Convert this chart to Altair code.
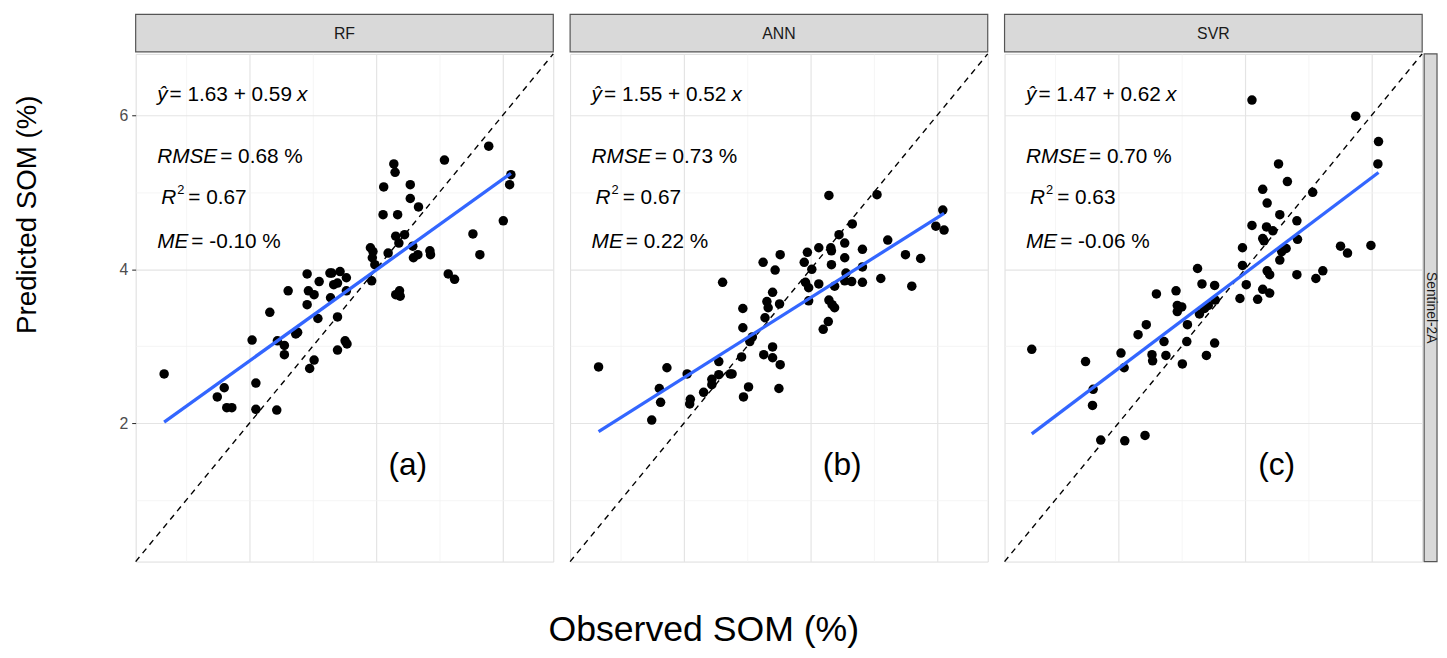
import altair as alt
import pandas as pd

FONT = "Liberation Sans"

models = ["RF", "ANN", "SVR"]
tags = ["(a)", "(b)", "(c)"]
sensor = "Sentinel-2A"
intercepts = [1.63, 1.55, 1.47]
slopes = [0.59, 0.52, 0.62]
rmse = [0.68, 0.73, 0.70]
r2 = [0.67, 0.67, 0.63]
me = [-0.10, 0.22, -0.06]

rf_obs = [0.65, 1.49, 1.60, 1.64, 1.72, 2.04, 2.10, 2.10, 2.43, 2.32, 2.44, 2.55, 2.55, 2.61, 2.73,
          2.76, 2.91, 2.93, 3.02, 2.91, 3.08, 2.95, 3.02, 3.10, 3.27, 3.30, 3.33, 3.28, 3.39, 3.43,
          3.53, 3.53, 3.39, 3.39, 3.51, 3.54, 3.91, 3.95, 3.94, 3.98, 3.93, 4.12, 4.11, 4.28, 4.30,
          4.34, 4.31, 4.36, 4.45, 4.19, 4.31, 4.37, 4.38, 4.54, 4.54, 4.67, 4.58, 4.59, 4.66, 4.85,
          4.86, 5.08, 5.14, 5.24, 5.53, 5.64, 5.78, 6.01, 6.13, 6.11]
rf_pred = [2.64, 2.34, 2.46, 2.20, 2.20, 3.08, 2.52, 2.18, 2.17, 3.44, 3.07, 3.01, 2.89, 3.72, 3.16,
           3.18, 3.94, 3.72, 3.67, 3.54, 3.36, 2.71, 2.82, 3.84, 3.95, 3.95, 3.80, 3.63, 3.82, 3.97,
           3.89, 3.72, 3.38, 2.95, 3.07, 3.03, 4.28, 4.23, 4.15, 4.06, 3.85, 5.07, 4.71, 5.37, 5.26,
           4.71, 4.43, 4.34, 4.45, 4.21, 3.67, 3.72, 3.65, 5.10, 4.92, 4.81, 4.30, 4.15, 4.19, 4.24,
           4.19, 5.42, 3.94, 3.87, 4.46, 4.19, 5.60, 4.63, 5.23, 5.10]

ann_obs = [0.65, 1.49, 1.61, 1.63, 1.73, 2.05, 2.10, 2.09, 2.31, 2.44, 2.44, 2.55, 2.55, 2.73, 2.76,
           2.61, 2.93, 2.93, 2.91, 2.94, 3.02, 3.04, 3.08, 3.25, 3.28, 3.31, 3.33, 3.26, 3.40, 3.40,
           3.52, 3.50, 3.40, 3.44, 3.51, 3.52, 3.90, 3.92, 3.97, 3.97, 3.95, 4.02, 4.13, 4.13, 4.29,
           4.32, 4.33, 4.33, 4.29, 4.34, 4.38, 4.38, 4.28, 4.20, 4.45, 4.54, 4.54, 4.56, 4.54, 4.65,
           4.66, 4.82, 4.82, 4.82, 5.05, 5.11, 5.22, 5.50, 5.60, 5.74, 6.09, 5.98, 6.11]
ann_pred = [2.73, 2.04, 2.45, 2.27, 2.72, 2.64, 2.31, 2.25, 2.40, 2.57, 2.50, 2.80, 2.63, 2.64, 2.64,
            3.83, 3.49, 3.24, 2.86, 2.34, 2.47, 3.06, 3.12, 4.09, 3.37, 3.58, 3.50, 2.89, 2.99, 2.85,
            2.76, 2.45, 3.70, 3.99, 3.55, 4.19, 4.09, 3.83, 3.76, 3.59, 4.22, 4.00, 4.28, 3.81, 4.96,
            4.28, 4.24, 4.06, 3.60, 3.54, 3.50, 3.78, 3.32, 3.22, 4.45, 4.34, 4.15, 3.95, 3.85, 3.84,
            4.59, 4.26, 4.03, 3.83, 4.97, 3.88, 4.38, 4.19, 3.78, 4.14, 4.77, 4.56, 4.51]

svr_obs = [0.63, 1.48, 1.60, 1.59, 1.72, 2.04, 2.09, 2.10, 2.42, 2.31, 2.44, 2.53, 2.54, 2.60, 2.72,
           2.75, 2.91, 2.93, 2.93, 3.00, 3.01, 3.08, 3.09, 3.25, 3.32, 3.28, 3.36, 3.42, 3.52, 3.53,
           3.39, 3.52, 3.92, 3.96, 3.96, 4.02, 4.11, 4.11, 4.20, 4.28, 4.28, 4.30, 4.28, 4.34, 4.35,
           4.35, 4.39, 4.39, 4.44, 4.53, 4.55, 4.55, 4.58, 4.65, 4.67, 4.82, 4.83, 4.82, 5.07, 5.12,
           5.23, 5.51, 5.62, 5.75, 5.99, 6.11, 6.10]
svr_pred = [2.96, 2.80, 2.44, 2.23, 1.78, 2.91, 2.72, 1.77, 1.84, 3.15, 3.28, 2.89, 2.81, 3.68, 3.06,
            2.88, 3.72, 3.53, 3.45, 3.51, 2.77, 3.06, 3.28, 4.01, 3.81, 3.42, 3.49, 3.53, 3.79, 3.60,
            2.88, 3.04, 3.62, 4.28, 4.05, 3.80, 6.20, 4.57, 3.61, 5.04, 4.40, 4.37, 3.74, 4.55, 4.86,
            3.98, 3.93, 3.69, 4.50, 5.37, 4.71, 4.12, 4.23, 4.27, 5.14, 4.63, 4.39, 3.93, 5.00, 3.88,
            3.98, 4.30, 4.21, 5.99, 4.31, 5.66, 5.37]

obs_lists = [rf_obs, ann_obs, svr_obs]
pred_lists = [rf_pred, ann_pred, svr_pred]

axis_limits = [0.2, 6.8]
grid_values = [1, 2, 3, 4, 5, 6]

# annotation anchor positions (data units)
ann_x = 0.54
row_y = [6.26, 5.46, 4.92, 4.36]
tag_x, tag_y = 4.5, 1.45

# layout
PW, PH = 422, 513
FS = 21

W = {' ': 278, '=': 584, '.': 278, '+': 584, '-': 333, '%': 889, 'R': 722, 'M': 833,
     'S': 667, 'E': 667, 'x': 500, 'ŷ': 500}


def tw(s, size=FS):
    return sum(W.get(c, 556) for c in s) * size / 1000.0


EVEN = "datum.value % 2 === 0"
GRIDC = {"condition": {"test": EVEN, "value": "#e4e4e4"}, "value": "#f2f2f2"}
GRIDW = {"condition": {"test": EVEN, "value": 1.2}, "value": 0.8}
TICKO = {"condition": {"test": EVEN, "value": 1}, "value": 0}


def panel(i):
    name = models[i]
    xs = alt.Scale(domain=axis_limits, nice=False, zero=False)
    ys = alt.Scale(domain=axis_limits, nice=False, zero=False)
    xaxis = alt.Axis(values=grid_values, labels=False, ticks=False, domain=False, title=None,
                     gridColor=GRIDC, gridWidth=GRIDW)
    if i == 0:
        yaxis = alt.Axis(values=grid_values, labelExpr="datum.value % 2 === 0 ? datum.label : ''",
                         tickOpacity=TICKO, tickSize=4, tickColor="#333333", tickWidth=1.1,
                         labelColor="#4d4d4d", labelFontSize=16, labelFont=FONT, labelPadding=4,
                         domain=False, gridColor=GRIDC, gridWidth=GRIDW,
                         title="Predicted SOM (%)", titleFontSize=28, titleFont=FONT,
                         titleFontWeight="normal", titleColor="black", titlePadding=78.5,
                         titleY=162)
    else:
        yaxis = alt.Axis(values=grid_values, labels=False, ticks=False, domain=False, title=None,
                         gridColor=GRIDC, gridWidth=GRIDW)

    def X(f):
        return alt.X(f, type="quantitative", scale=xs, axis=xaxis)

    def Y(f):
        return alt.Y(f, type="quantitative", scale=ys, axis=yaxis)

    pts = pd.DataFrame({"obs": obs_lists[i], "pred": pred_lists[i]})
    points = alt.Chart(pts).mark_circle(size=92, color="black", opacity=1).encode(
        x=X("obs"), y=Y("pred"))

    one = alt.Chart(pd.DataFrame({"v": axis_limits})).mark_line(
        color="black", strokeDash=[6, 5], strokeWidth=1.4).encode(x=X("v"), y=Y("v"))

    reg_df = pd.DataFrame({"x": [min(obs_lists[i]), max(obs_lists[i])],
                           "b0": [intercepts[i]] * 2, "b1": [slopes[i]] * 2})
    reg = alt.Chart(reg_df).transform_calculate(fit="datum.b0 + datum.b1 * datum.x").mark_line(
        color="#3366FF", strokeWidth=3.3).encode(x=X("x"), y=Y("fit:Q"))

    ann = pd.DataFrame({
        "ax": [ann_x], "y1": [row_y[0]], "y2": [row_y[1]], "y3": [row_y[2]], "y4": [row_y[3]],
        "eq": [f"= {intercepts[i]:.2f} + {slopes[i]:.2f}"],
        "rm": [f"= {rmse[i]:.2f} %"],
        "r2": [f"= {r2[i]:.2f}"],
        "me": [f"= {me[i]:.2f} %"],
        "tx": [tag_x], "ty": [tag_y], "tag": [tags[i]],
        "model": [name], "sensor": [sensor],
    })
    base = alt.Chart(ann)

    def txt(yf, dx, text=None, field=None, italic=False, size=FS, dy=0):
        m = base.mark_text(align="left", baseline="middle", dx=dx, dy=dy, fontSize=size,
                           font=FONT, fontStyle="italic" if italic else "normal", color="black",
                           **({"text": text} if text is not None else {}))
        enc = dict(x=X("ax"), y=Y(yf))
        if field is not None:
            enc["text"] = alt.Text(field, type="nominal")
        return m.encode(**enc)

    eq_dx = tw("ŷ") + 2
    x_dx = eq_dx + tw("= 1.63 + 0.59") + 5
    r_dx = 4
    sup_dx = r_dx + tw("R") + 1
    r2_dx = sup_dx + 0.556 * 13 + 4
    texts = [
        txt("y1", 0, text="ŷ", italic=True),
        txt("y1", eq_dx, field="eq"),
        txt("y1", x_dx, text="x", italic=True),
        txt("y2", 0, text="RMSE", italic=True),
        txt("y2", tw("RMSE") + 3, field="rm"),
        txt("y3", r_dx, text="R", italic=True),
        txt("y3", sup_dx, text="2", size=13, dy=-9),
        txt("y3", r2_dx, field="r2"),
        txt("y4", 0, text="ME", italic=True),
        txt("y4", tw("ME") + 3, field="me"),
    ]

    tag = base.mark_text(align="center", baseline="middle", fontSize=32, font=FONT,
                         color="black").encode(x=X("tx"), y=Y("ty"), text="tag:N")

    strip = base.mark_rect(fill="#d9d9d9", stroke="#555555", strokeWidth=1.2).encode(
        x=alt.value(0), x2=alt.value(PW), y=alt.value(-40), y2=alt.value(-2))
    strip_t = base.mark_text(align="center", baseline="middle", fontSize=16, font=FONT,
                             color="#1a1a1a").encode(
        x=alt.value(PW / 2), y=alt.value(-20), text="model:N")

    layers = [points, one, reg] + texts + [tag, strip, strip_t]
    if i == 2:
        rs = base.mark_rect(fill="#d9d9d9", stroke="#555555", strokeWidth=1.2).encode(
            x=alt.value(PW + 2), x2=alt.value(PW + 15), y=alt.value(0), y2=alt.value(PH))
        rs_t = base.mark_text(align="center", baseline="middle", fontSize=14, font=FONT,
                              angle=90, color="#1a1a1a").encode(
            x=alt.value(PW + 8.5), y=alt.value(PH / 2), text="sensor:N")
        layers += [rs, rs_t]
    return alt.layer(*layers).properties(width=PW, height=PH)


chart = alt.hconcat(*[panel(i) for i in range(3)], spacing=9).properties(
    title=alt.TitleParams(text="Observed SOM (%)", orient="bottom", anchor="middle",
                          fontSize=36, font=FONT, fontWeight="normal", color="black",
                          offset=49, dx=-22),
    padding={"left": 5, "top": 1, "right": 0, "bottom": 0},
).configure_view(stroke="#555555", strokeWidth=1.2).configure(background="white")

chart.save("out.html", embed_options={"renderer": "svg", "actions": False})
